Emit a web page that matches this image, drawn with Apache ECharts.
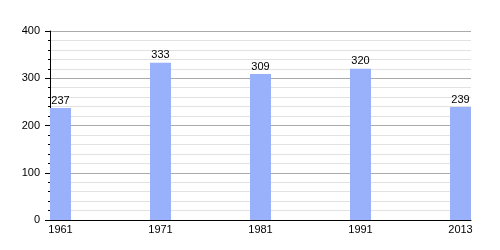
<!DOCTYPE html>
<html><head><meta charset="utf-8">
<script src="https://cdn.jsdelivr.net/npm/echarts@6/dist/echarts.min.js"></script>
<style>html,body{margin:0;padding:0;background:#fff}#c{width:500px;height:250px}</style>
</head><body><div id="c"></div>
<script>
const years = ['1961','1971','1981','1991','2013'];
const population = [237, 333, 309, 320, 239];
const yTicks = [0, 100, 200, 300, 400];

const chart = echarts.init(document.getElementById('c'), null, {renderer:'canvas'});
const font = 'Liberation Sans, Arial, sans-serif';
chart.setOption({
  animation: false,
  grid: {left: 50, right: 29, top: 31, bottom: 30},
  xAxis: {
    type: 'value', min: -0.105, max: 4.105,
    splitLine: {show: false},
    axisLine: {show: true, onZero: false, lineStyle: {color: '#000', width: 1}},
    axisTick: {show: false},
    axisLabel: {customValues: years.map((_, i) => i), formatter: v => years[Math.round(v)] || '',
      color: '#000', fontFamily: font, fontSize: 11, margin: 4}
  },
  yAxis: {
    type: 'value', min: 0, max: 400, interval: 100,
    axisLine: {show: true, onZero: false, lineStyle: {color: '#000', width: 1}},
    axisTick: {show: true, length: 5, lineStyle: {color: '#000'}},
    minorTick: {show: true, splitNumber: 5, length: 2, lineStyle: {color: '#000'}},
    splitLine: {show: true, lineStyle: {color: '#aaaaaa', width: 1}},
    minorSplitLine: {show: true, lineStyle: {color: '#e2e2e2', width: 1}},
    axisLabel: {color: '#000', fontFamily: font, fontSize: 11, margin: 10,
      customValues: yTicks}
  },
  series: [{
    type: 'bar',
    data: population.map((v, i) => [i, v]),
    barWidth: 21,
    itemStyle: {color: '#99b1fb'},
    label: {show: true, position: 'top', color: '#000', fontFamily: font, fontSize: 11, distance: 2}
  }]
});
</script></body></html>
